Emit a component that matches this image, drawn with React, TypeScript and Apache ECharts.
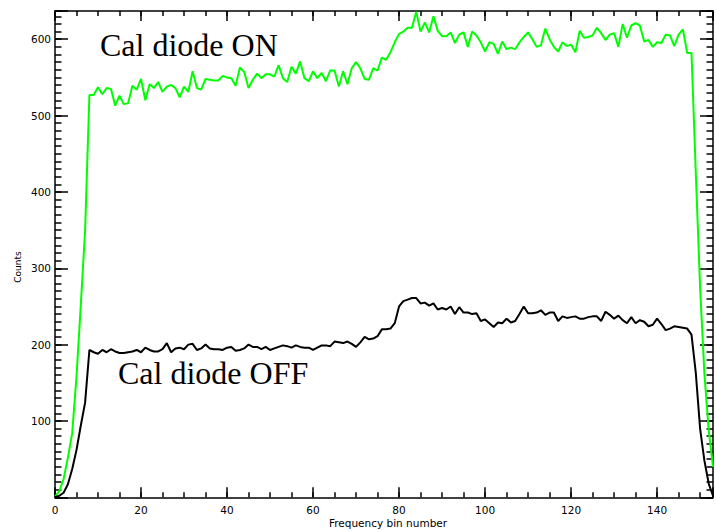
import React, { useEffect, useRef } from "react";
import * as echarts from "echarts";

// Counts per frequency bin (bin number = index)
const onCounts = [
  1, 8, 24, 52, 84, 158, 252, 350, 527, 527,
  537, 528, 536, 535, 513, 526, 515, 516, 539, 534,
  548, 520, 541, 536, 544, 531, 538, 540, 536, 524,
  538, 531, 558, 536, 534, 548, 547, 546, 546, 552,
  550, 549, 539, 563, 557, 536, 547, 555, 549, 554,
  554, 551, 566, 549, 544, 564, 555, 571, 549, 545,
  558, 549, 556, 545, 559, 559, 538, 558, 541, 562,
  570, 562, 548, 547, 562, 559, 576, 573, 583, 596,
  607, 610, 615, 615, 636, 610, 622, 609, 630, 611,
  604, 604, 609, 595, 606, 609, 590, 610, 605, 596,
  584, 596, 594, 581, 597, 587, 589, 587, 596, 603,
  609, 600, 590, 592, 614, 600, 590, 584, 596, 591,
  593, 583, 611, 602, 603, 605, 615, 608, 599, 606,
  608, 590, 620, 602, 618, 621, 618, 597, 599, 590,
  596, 595, 606, 605, 591, 606, 613, 582, 582, 425,
  275, 162, 88, 40,
];

const offCounts = [
  0, 2, 6, 17, 37, 62, 94, 124, 193, 190,
  188, 193, 190, 194, 191, 189, 189, 190, 191, 193,
  190, 196, 193, 191, 191, 194, 202, 190, 195, 196,
  194, 200, 201, 193, 195, 200, 195, 194, 194, 193,
  196, 197, 192, 193, 195, 200, 197, 197, 194, 197,
  193, 195, 197, 199, 198, 196, 199, 197, 196, 196,
  193, 196, 199, 199, 198, 204, 203, 202, 204, 201,
  197, 203, 210, 207, 208, 211, 220, 220, 221, 228,
  250, 257, 259, 261, 261, 254, 255, 251, 254, 246,
  248, 246, 250, 240, 249, 242, 242, 240, 241, 231,
  233, 228, 223, 229, 228, 234, 229, 231, 240, 250,
  241, 241, 242, 245, 239, 242, 242, 231, 237, 235,
  236, 237, 234, 234, 236, 237, 237, 231, 243, 239,
  234, 238, 232, 228, 236, 228, 232, 230, 224, 226,
  234, 227, 219, 221, 224, 223, 222, 221, 213, 163,
  90, 48, 18, 2,
];

const xTickLabels = [0, 20, 40, 60, 80, 100, 120, 140];
const yTickLabels = [100, 200, 300, 400, 500, 600];

const X_MAX = 153;
const Y_MAX = 637;

export default function App() {
  const ref = useRef<HTMLDivElement>(null);

  useEffect(() => {
    if (!ref.current) return;
    const chart = echarts.init(ref.current, null, { renderer: "svg" });
    const line = { color: "#000", width: 1.5 };
    const labelFont = {
      fontFamily: "DejaVu Sans",
      fontSize: 10.5,
      color: "#000",
    };

    const xAx = (position: string, interval: number, len: number, labels: boolean, showLine: boolean) => ({
      type: "value",
      position,
      min: 0,
      max: X_MAX,
      interval,
      axisLine: { show: showLine, onZero: false, lineStyle: line },
      axisTick: { show: true, inside: true, length: len, lineStyle: line },
      axisLabel: labels
        ? {
            ...labelFont,
            margin: 7,
            formatter: (v: number) => (xTickLabels.includes(v) ? String(v) : ""),
          }
        : { show: false },
      splitLine: { show: false },
    });
    const yAx = (position: string, interval: number, len: number, labels: boolean, showLine: boolean) => ({
      type: "value",
      position,
      min: 0,
      max: Y_MAX,
      interval,
      axisLine: { show: showLine, onZero: false, lineStyle: line },
      axisTick: { show: true, inside: true, length: len, lineStyle: line },
      axisLabel: labels
        ? {
            ...labelFont,
            margin: 4,
            formatter: (v: number) => (yTickLabels.includes(v) ? String(v) : ""),
          }
        : { show: false },
      splitLine: { show: false },
    });

    const toPairs = (arr: number[]) => arr.map((v, i) => [i, v]);

    chart.setOption({
      animation: false,
      backgroundColor: "#fff",
      grid: { left: 55, right: 1.5, top: 11, bottom: 33.7, containLabel: false },
      xAxis: [
        xAx("bottom", 20, 10, true, true),
        xAx("bottom", 5, 5, false, false),
        xAx("top", 20, 10, false, true),
        xAx("top", 5, 5, false, false),
      ],
      yAxis: [
        yAx("left", 100, 13, true, true),
        yAx("left", 10, 6.5, false, false),
        yAx("right", 100, 13, false, true),
        yAx("right", 10, 6.5, false, false),
      ],
      series: [
        {
          name: "Cal diode ON",
          type: "line",
          xAxisIndex: 0,
          yAxisIndex: 0,
          data: toPairs(onCounts),
          showSymbol: false,
          symbol: "none",
          clip: true,
          lineStyle: { color: "#00ff00", width: 2 },
        },
        {
          name: "Cal diode OFF",
          type: "line",
          xAxisIndex: 0,
          yAxisIndex: 0,
          data: toPairs(offCounts),
          showSymbol: false,
          symbol: "none",
          clip: true,
          lineStyle: { color: "#000", width: 2 },
        },
      ],
      graphic: [
        {
          type: "text",
          x: 100,
          y: 45,
          style: {
            text: "Cal diode ON",
            font: "32px 'Liberation Serif', 'Times New Roman', serif",
            fill: "#000",
            textAlign: "left",
            textVerticalAlign: "middle",
          },
        },
        {
          type: "text",
          x: 118,
          y: 373,
          style: {
            text: "Cal diode OFF",
            font: "32px 'Liberation Serif', 'Times New Roman', serif",
            fill: "#000",
            textAlign: "left",
            textVerticalAlign: "middle",
          },
        },
        {
          type: "text",
          x: 388,
          y: 523,
          style: {
            text: "Frequency bin number",
            font: "10.5px 'DejaVu Sans'",
            fill: "#000",
            textAlign: "center",
            textVerticalAlign: "middle",
          },
        },
        {
          type: "text",
          x: 18,
          y: 267,
          rotation: Math.PI / 2,
          style: {
            text: "Counts",
            font: "9px 'DejaVu Sans'",
            fill: "#000",
            textAlign: "center",
            textVerticalAlign: "middle",
          },
        },
      ],
    });
    return () => chart.dispose();
  }, []);

  return (
    <div
      ref={ref}
      style={{ position: "fixed", left: 0, top: 0, width: 716, height: 531 }}
    />
  );
}
